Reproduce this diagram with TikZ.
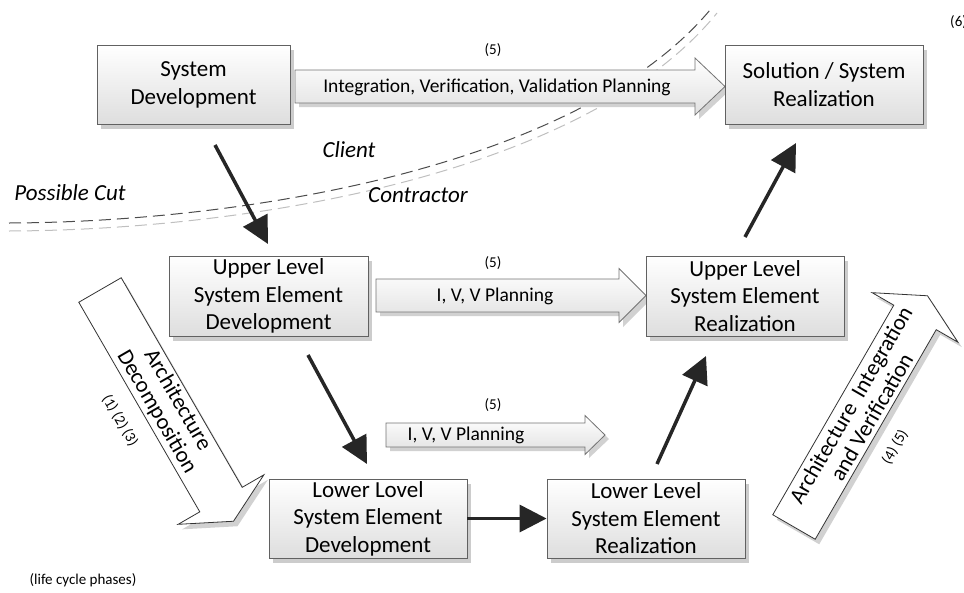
\documentclass[tikz,border=0pt]{standalone}
\usepackage{fontspec}
\setmainfont{Carlito}
\usetikzlibrary{arrows.meta,shadows}
\begin{document}
\begin{tikzpicture}[x=1pt,y=-1pt,
  box/.style={draw=black!62, line width=0.9pt, top color=white, bottom color=black!13,
    align=center, inner sep=0pt, font=\fontsize{23}{27.5}\selectfont,
    drop shadow={shadow xshift=4pt,shadow yshift=-5pt,fill=black!20,opacity=1}},
  bigarrow/.style={line width=3.5pt, draw=black!85, -{Triangle[length=27pt,width=27pt]}},
  blockfill/.style={draw=black!55, line width=0.8pt, top color=white, bottom color=black!12},
  whiteblock/.style={draw=black!80, line width=0.8pt, fill=white},
  shadowfill/.style={fill=black!18, draw=none},
  cutdark/.style={draw=black!70, line width=1pt, dash pattern=on 12pt off 6pt},
  cutlight/.style={draw=black!25, line width=1pt, dash pattern=on 12pt off 6pt},
  lab/.style={font=\fontsize{19.5}{22}\selectfont, inner sep=0pt},
  small/.style={font=\fontsize{15}{17}\selectfont, inner sep=0pt},
  rtext/.style={align=center, font=\fontsize{22.5}{24}\selectfont, inner sep=0pt},
  ital/.style={font=\fontsize{23}{26}\selectfont\itshape, inner sep=0pt}
]
\useasboundingbox (0,0) rectangle (964,592);

% possible cut curves
\draw[cutlight] (9,231) .. controls (255,230) and (588,172) .. (717,13);
\draw[cutdark] (9,223) .. controls (250,222) and (580,165) .. (710,10);

% horizontal block arrows (shadows first)
\fill[shadowfill] (299,75) -- (699,75) -- (699,63) -- (729,91) -- (699,119) -- (699,107) -- (299,107) -- cycle;
\path[blockfill] (295,70) -- (695,70) -- (695,58) -- (725,86.5) -- (695,115) -- (695,103) -- (295,103) -- cycle;
\node[small] (n5a) at (493,50) {(5)};
\node[lab] (iv1) at (497,87) {Integration, Verification, Validation Planning};

\fill[shadowfill] (380,284) -- (623,284) -- (623,273) -- (650,300) -- (623,327) -- (623,316) -- (380,316) -- cycle;
\path[blockfill] (376,279) -- (619,279) -- (619,268.5) -- (646,295.5) -- (619,322.5) -- (619,312) -- (376,312) -- cycle;
\node[small] (n5b) at (493,263) {(5)};
\node[lab] (iv2) at (495,296) {I, V, V Planning};

\fill[shadowfill] (390,427) -- (589,427) -- (589,420) -- (609,439) -- (589,458) -- (589,451) -- (390,451) -- cycle;
\path[blockfill] (386,423) -- (585,423) -- (585,415.5) -- (605,435) -- (585,454.5) -- (585,447) -- (386,447) -- cycle;
\node[small] (n5c) at (493,405) {(5)};
\node[lab] (iv3) at (466,435) {I, V, V Planning};

% rotated block arrows
\def\blockpath{(0,-24.5) -- (242,-24.5) -- (242,-49.5) -- (267,0) -- (242,49.5) -- (242,24.5) -- (0,24.5) -- cycle}
\begin{scope}[shift={(104,295)}, rotate=-60]
  \fill[shadowfill] \blockpath;
\end{scope}
\begin{scope}[shift={(100,290)}, rotate=-60]
  \path[whiteblock] \blockpath;
\end{scope}
\begin{scope}[shift={(798,532)}, rotate=60]
  \fill[shadowfill] \blockpath;
\end{scope}
\begin{scope}[shift={(794,527)}, rotate=60]
  \path[whiteblock] \blockpath;
\end{scope}
\node[rotate=-60, rtext] (dec) at (167,406) {Architecture\\Decomposition};
\node[rotate=-60, small] (n123) at (120,420.5) {(1) (2) (3)};
\node[rotate=60, rtext] (integ) at (861,411) {Architecture~~Integration\\and Verification};
\node[rotate=60, small] (n45) at (895,447) {(4) (5)};

% boxes
\node[box, minimum width=193pt, minimum height=79pt, font=\fontsize{23}{28}\selectfont] (sd) at (193.5,84.5) {System\\Development};
\node[box, minimum width=198pt, minimum height=79pt, font=\fontsize{23}{28}\selectfont] (sr) at (824,84.5) {Solution / System\\Realization};
\node[box, minimum width=199pt, minimum height=80pt] (ud) at (268.5,296) {Upper Level\\System Element\\Development};
\node[box, minimum width=198pt, minimum height=80pt] (ur) at (745,296) {Upper Level\\System Element\\Realization};
\node[box, minimum width=198pt, minimum height=79pt] (ld) at (368,518.5) {Lower Lovel\\System Element\\Development};
\node[box, minimum width=198pt, minimum height=79pt] (lr) at (646,518.5) {Lower Level\\System Element\\Realization};

% thick arrows
\coordinate (a1) at (215,145);
\coordinate (a2) at (268,244);
\coordinate (b1) at (308,355);
\coordinate (b2) at (367,464);
\coordinate (d1) at (657,464);
\coordinate (d2) at (706,356);
\coordinate (e1) at (745,237);
\coordinate (e2) at (796,143);
\draw[bigarrow] (a1) -- (a2);
\draw[bigarrow] (b1) -- (b2);
\draw[bigarrow] (ld.east) -- (lr.west);
\draw[bigarrow] (d1) -- (d2);
\draw[bigarrow] (e1) -- (e2);

% labels
\node[ital] (cut) at (70,193) {Possible Cut};
\node[ital] (client) at (349,150) {Client};
\node[ital] (contr) at (418,195) {Contractor};
\node[small, anchor=west] (six) at (950,22) {(6)};
\node[small] (lcp) at (83,580) {(life cycle phases)};
\end{tikzpicture}
\end{document}
